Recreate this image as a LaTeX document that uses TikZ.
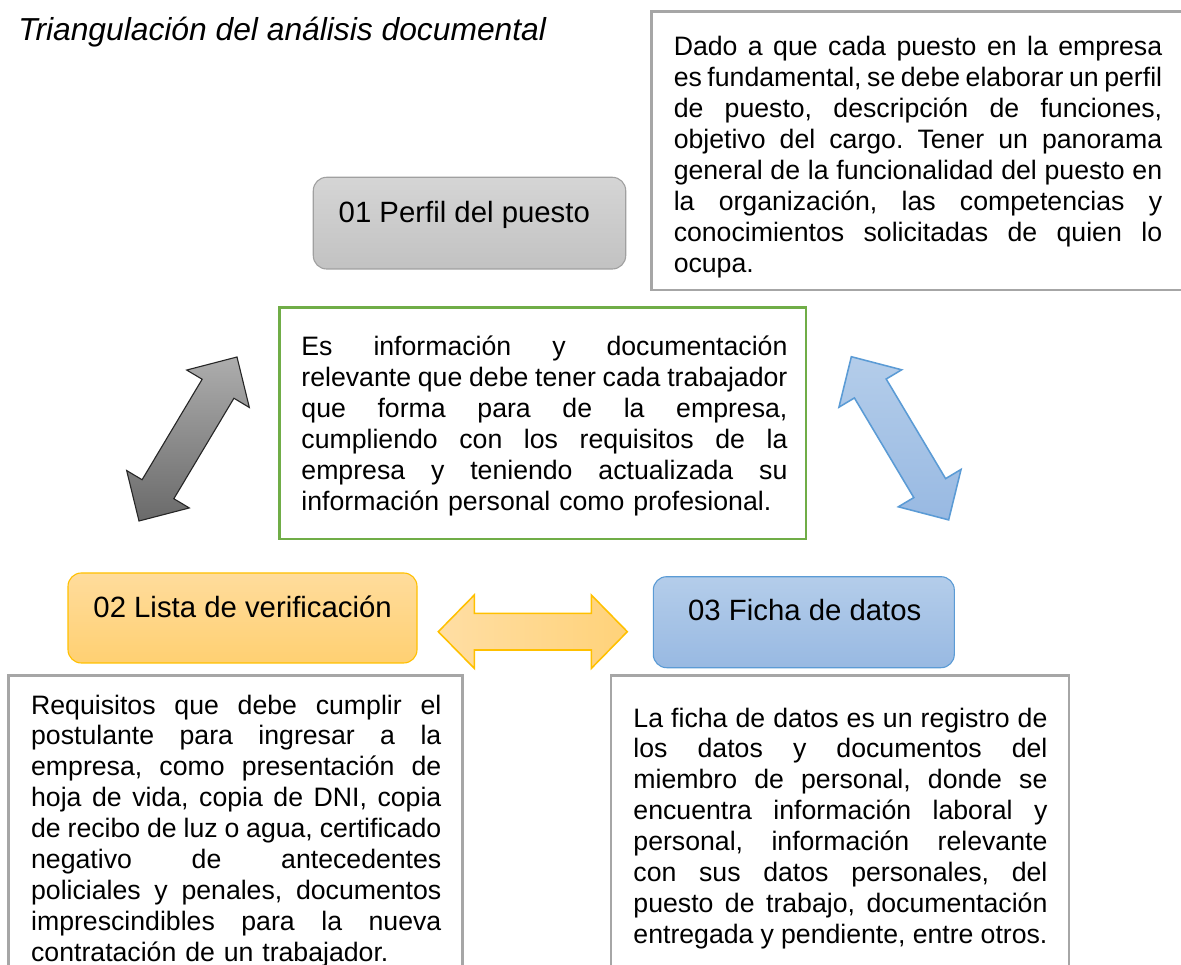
\documentclass[tikz,border=0pt]{standalone}
\usepackage{fontspec}
\setmainfont{Liberation Sans}
\usetikzlibrary{fit}
\definecolor{gborder}{HTML}{A6A6A6}
\definecolor{greenc}{HTML}{70AD47}
\definecolor{goldc}{HTML}{FFC000}
\definecolor{bluec}{HTML}{5B9BD5}
\definecolor{grayTop}{HTML}{D5D5D5}
\definecolor{grayBot}{HTML}{C2C2C2}
\definecolor{grayRim}{HTML}{A0A0A0}
\definecolor{orTop}{HTML}{FFDC9C}
\definecolor{orBot}{HTML}{FFD072}
\definecolor{blTop}{HTML}{B4CDEA}
\definecolor{blBot}{HTML}{98B9E2}
\definecolor{garTop}{HTML}{ADADAD}
\definecolor{garBot}{HTML}{6A6A6A}
\definecolor{oarL}{HTML}{FFDEA4}
\definecolor{oarR}{HTML}{FFD279}
\newcommand\jl[1]{\hbox to \hsize{\spaceskip=3.336pt plus 4pt minus 2pt\relax #1}}
\newcommand\nl[1]{\hbox{#1}}
\begin{document}
\begin{tikzpicture}[x=0.45pt,y=-0.45pt,
  gbox/.style={draw=gborder, line width=1.3pt, inner sep=0pt},
  greenbox/.style={draw=greenc, line width=1.3pt, inner sep=0pt},
  rbox/.style={rounded corners=6pt, line width=0.5pt, inner sep=0pt},
  lbl/.style={anchor=base west, inner sep=0pt, font=\fontsize{13.2}{15}\selectfont},
  txt/.style={anchor=base west, inner sep=0pt, font=\fontsize{12}{13.9}\selectfont\frenchspacing, text width=#1},
  grayarrow/.style={draw=black!85, line width=0.5pt, top color=garTop, bottom color=garBot},
  bluearrow/.style={draw=bluec, line width=0.7pt, top color=blTop, bottom color=blBot},
  orarrow/.style={draw=goldc, line width=0.7pt, left color=oarL, right color=oarR}]
\useasboundingbox (0,0) rectangle (1181,965);

% title
\node[anchor=base west, inner sep=0pt, font=\fontsize{14.3}{16}\selectfont\itshape] (title) at (18,41) {Triangulación del análisis documental};

% boxes
\node[gbox, fit={(651.7,11.7) (1190,290)}] (trbox) {};
\node[greenbox, fit={(279.3,307.3) (806,539)}] (gbox) {};
\node[gbox, fit={(8.3,675.7) (462.7,980)}] (blbox) {};
\node[gbox, fit={(611,675.5) (1069,980)}] (brbox) {};

\node[rbox, draw=grayRim, top color=grayTop, bottom color=grayBot, fit={(313.3,177.3) (625.7,269)}] (b01) {};
\node[rbox, draw=goldc, top color=orTop, bottom color=orBot, fit={(68,573) (417,663)}] (b02) {};
\node[rbox, draw=bluec, top color=blTop, bottom color=blBot, fit={(653.3,576.7) (954.3,667.7)}] (b03) {};

\node[lbl] (l01) at (338.3,223) {01 Perfil del puesto};
\node[lbl] (l02) at (93,617.5) {02 Lista de verificación};
\node[lbl] (l03) at (687.7,621) {03 Ficha de datos};

% double arrows
\draw[grayarrow] (139,521) -- (189.31,507.96) -- (173.86,498.73) -- (233.90,398.25) -- (249.35,407.48) -- (237,357)
  -- (186.69,370.04) -- (202.14,379.27) -- (142.10,479.75) -- (126.65,470.52) -- cycle;
\draw[bluearrow] (851.35,356.71) -- (838.95,407.18) -- (854.41,397.96) -- (913.81,497.58) -- (898.35,506.80) -- (948.65,519.89)
  -- (961.05,469.42) -- (945.59,478.64) -- (886.19,379.02) -- (901.65,369.80) -- cycle;
\draw[orarrow] (438.3,631.7) -- (474.3,595) -- (474.3,613.4) -- (591.3,613.4) -- (591.3,595) -- (627.3,631.7)
  -- (591.3,668.4) -- (591.3,650) -- (474.3,650) -- (474.3,668.4) -- cycle;

% texts
\node[txt=219.8pt] (trtext) at (673.3,56) {%
\jl{Dado a que cada puesto en la empresa}
\jl{es fundamental, se debe elaborar un perfil}
\jl{de puesto, descripción de funciones,}
\jl{objetivo del cargo. Tener un panorama}
\jl{general de la funcionalidad del puesto en}
\jl{la organización, las competencias y}
\jl{conocimientos solicitadas de quien lo}
\nl{ocupa.}};

\node[txt=218.7pt] (gtext) at (301,356) {%
\jl{Es información y documentación}
\jl{relevante que debe tener cada trabajador}
\jl{que forma para de la empresa,}
\jl{cumpliendo con los requisitos de la}
\jl{empresa y teniendo actualizada su}
\nl{información personal como profesional.}};

\node[txt=184.6pt] (bltext) at (30.7,714) {%
\jl{Requisitos que debe cumplir el}
\jl{postulante para ingresar a la}
\jl{empresa, como presentación de}
\jl{hoja de vida, copia de DNI, copia}
\jl{de recibo de luz o agua, certificado}
\jl{negativo de antecedentes}
\jl{policiales y penales, documentos}
\jl{imprescindibles para la nueva}
\nl{contratación de un trabajador.}};

\node[txt=186.3pt] (brtext) at (633,727) {%
\jl{La ficha de datos es un registro de}
\jl{los datos y documentos del}
\jl{miembro de personal, donde se}
\jl{encuentra información laboral y}
\jl{personal, información relevante}
\jl{con sus datos personales, del}
\jl{puesto de trabajo, documentación}
\jl{entregada y pendiente, entre otros.}};
\end{tikzpicture}
\end{document}
